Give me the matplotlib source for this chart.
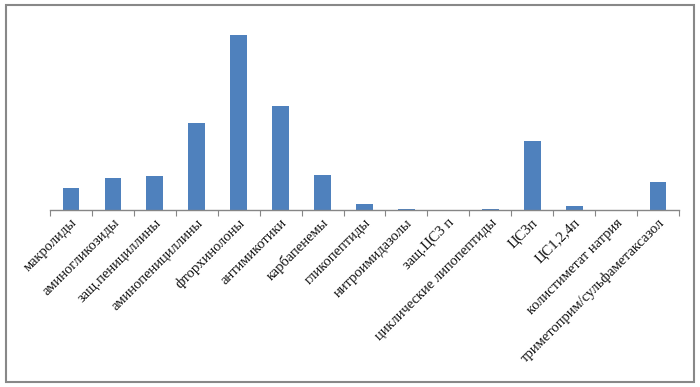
import matplotlib.pyplot as plt
from matplotlib.patches import Rectangle

# Группы антибиотиков и относительная частота
categories = ["макролиды", "аминогликозиды", "защ.пенициллины",
              "аминопенициллины", "фторхинолоны", "антимикотики",
              "карбапенемы", "гликопептиды", "нитроимидазолы", "защ.ЦС3 п",
              "циклические липопептиды", "ЦС3п", "ЦС1,2,4п",
              "колистиметат натрия", "триметоприм/сульфаметаксазол"]
values = [22, 32.5, 34, 87, 175, 104, 35, 6, 1.5, 0, 1, 69, 4.3, 0, 28.5]

plt.rcParams["font.family"] = ["Liberation Serif", "DejaVu Serif"]

fig = plt.figure(figsize=(7, 3.87), dpi=100)
ax = fig.add_axes([50 / 700, 1 - 210 / 387, 629 / 700, 190 / 387])

x = range(len(categories))
ax.bar(x, values, width=0.4, color="#4F81BD")

# Оформление в стиле Excel
ax.set_xlim(-0.5, len(categories) - 0.5)
ax.set_ylim(0, 175 / 0.92)
ax.set_yticks([])
for s in ["top", "right", "left"]:
    ax.spines[s].set_visible(False)
ax.spines["bottom"].set_color("#868686")
ax.spines["bottom"].set_linewidth(1)

ax.set_xticks([i - 0.5 for i in range(len(categories) + 1)], minor=False)
ax.set_xticklabels([])
ax.tick_params(axis="x", direction="out", length=4, color="#868686")
for i, name in enumerate(categories):
    ax.text(i + 0.1, -11, name, rotation=45, ha="right", va="center",
            rotation_mode="anchor", fontsize=10.5, color="#111111")

# Рамка вокруг диаграммы
fig.patches.append(Rectangle((6 / 700, 5 / 387), 688 / 700, 377 / 387,
                             transform=fig.transFigure, fill=False,
                             edgecolor="#888888", linewidth=1.5))

fig.savefig("out.png", dpi=100)
